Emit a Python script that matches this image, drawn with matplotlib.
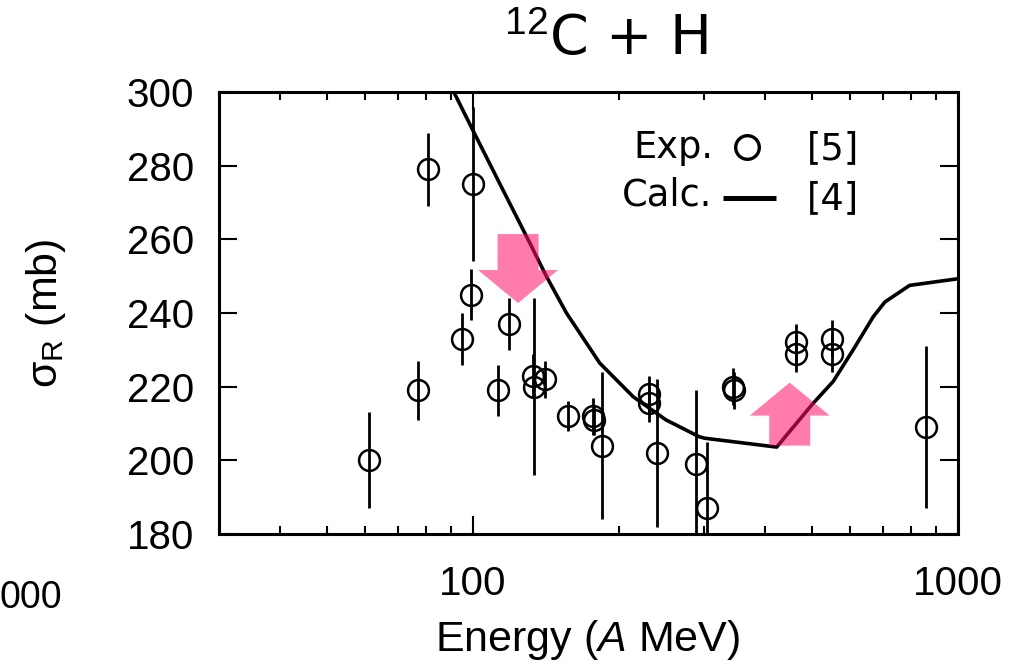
import matplotlib
matplotlib.use("Agg")
import matplotlib.pyplot as plt
import matplotlib.transforms as mtransforms
from matplotlib.patches import Polygon
from matplotlib.ticker import FixedLocator, NullFormatter, LogLocator

# Reaction cross sections for 12C + H: measurements [5]
exp_energy = [61, 77, 81, 95, 99, 100, 113, 119, 133, 133.5, 141, 157, 177, 178,
              185, 231, 231, 240, 289, 304, 344, 345, 463, 463, 551, 551, 858]
exp_sigma = [200, 219, 279, 233, 245, 275, 219, 237, 223, 220, 222, 212, 212, 211,
             204, 218, 215.5, 202, 199, 187, 220, 219, 232, 229, 233, 229, 209]
exp_err = [13, 8, 10, 7, 7, 21, 7, 7, 6, 24, 5, 4, 5, 4,
           20, 5, 5, 20, 20, 18, 5, 5, 5, 5, 5, 5, 22]

# Calculation [4]
calc_energy = [86, 91.1, 99.9, 113.7, 131, 141.9, 156, 182.7, 214, 250, 293, 300.8,
               423, 503, 553, 608, 669, 707, 795, 1000]
calc_sigma = [310, 300.4, 289.8, 275.1, 259.1, 249.9, 240, 226.4, 217.3, 211, 206.4, 206,
              203.6, 215.5, 221.4, 230, 239, 243, 247.5, 249.3]

y_ticks = [180, 200, 220, 240, 260, 280, 300]
x_ticks = [100, 1000]
x_tick_labels = ["100", "1000"]

plt.rcParams["mathtext.fontset"] = "custom"
plt.rcParams["mathtext.rm"] = "Liberation Sans"
plt.rcParams["mathtext.it"] = "Liberation Sans:italic"

W, H, DPI = 1030, 667, 100
fig = plt.figure(figsize=(W / DPI, H / DPI), dpi=DPI)
ax = fig.add_axes([219 / W, 1 - 534 / H, (958 - 219) / W, (534 - 92) / H])

ax.set_xscale("log")
ax.set_xlim(30, 1000)
ax.set_ylim(180, 300)

# calculated curve
ax.plot(calc_energy, calc_sigma, color="black", lw=2.6, zorder=3,
        solid_joinstyle="round")

# measured points
ax.errorbar(exp_energy, exp_sigma, yerr=exp_err, fmt="o", ms=15,
            mfc="none", mec="black", mew=1.8, ecolor="black", elinewidth=2.0,
            capsize=0, zorder=4)


def pink_arrow(tip_e, tip_s, pointing_down, length_px):
    head_half, head_len, shaft_half = 40, 33, 20.5
    s = 1 if pointing_down else -1
    verts_px = [(0, 0), (-head_half, s * head_len), (-shaft_half, s * head_len),
                (-shaft_half, s * length_px), (shaft_half, s * length_px),
                (shaft_half, s * head_len), (head_half, s * head_len)]
    verts_in = [(x / DPI, y / DPI) for x, y in verts_px]
    trans = fig.dpi_scale_trans + mtransforms.ScaledTranslation(tip_e, tip_s, ax.transData)
    poly = Polygon(verts_in, closed=True, transform=trans, facecolor="#ff0f68",
                   edgecolor="none", alpha=0.55, zorder=5, clip_on=False)
    ax.add_patch(poly)


pink_arrow(124, 242.7, True, 69)
pink_arrow(450, 221.1, False, 63)

# axes styling
for sp in ax.spines.values():
    sp.set_linewidth(2.2)
ax.set_yticks(y_ticks)
ax.set_yticklabels([str(v) for v in y_ticks])
ax.xaxis.set_major_locator(FixedLocator(x_ticks))
ax.set_xticklabels(x_tick_labels)
ax.xaxis.set_minor_locator(LogLocator(base=10, subs=range(2, 10), numticks=20))
ax.xaxis.set_minor_formatter(NullFormatter())
ax.tick_params(which="both", direction="in", top=True, right=True)
ax.tick_params(which="major", length=13, width=1.5)
ax.tick_params(which="minor", length=6, width=1.5)
ax.tick_params(axis="x", which="major", labelsize=29, pad=22)
ax.tick_params(axis="y", which="major", labelsize=29, pad=18)
for lbl in ax.get_xticklabels() + ax.get_yticklabels():
    lbl.set_fontfamily("Liberation Sans")

# legend block
leg_font = dict(family="DejaVu Sans", fontsize=26.5, color="black")
ax.text((713 - 219) / 739, (534 - 147) / 442, "Exp.", transform=ax.transAxes,
        ha="right", va="center", **leg_font)
ax.plot([(747 - 219) / 739], [(534 - 147) / 442], "o", ms=17, mfc="none",
        mec="black", mew=2.4, transform=ax.transAxes, clip_on=False)
ax.text((807 - 219) / 739, (534 - 149) / 442, "[5]", transform=ax.transAxes,
        ha="left", va="center", **leg_font)
ax.text((712 - 219) / 739, (534 - 195) / 442, "Calc.", transform=ax.transAxes,
        ha="right", va="center", **leg_font)
ax.plot([(723 - 219) / 739, (776 - 219) / 739], [(534 - 198) / 442] * 2,
        color="black", lw=3.6, transform=ax.transAxes, solid_capstyle="butt")
ax.text((807 - 219) / 739, (534 - 199) / 442, "[4]", transform=ax.transAxes,
        ha="left", va="center", **leg_font)

# titles and axis labels
fig.text(606 / W, 1 - 40 / H, r"$^{12}$C + H", ha="center", va="center",
         family="DejaVu Sans", fontsize=40)
fig.text(588 / W, 1 - 640 / H, r"Energy ($\mathit{A}$ MeV)", ha="center",
         va="center", family="Liberation Sans", fontsize=31)
fig.text(46 / W, 1 - 313 / H, r"σ$_{\mathrm{R}}$ (mb)", ha="center", va="center",
         rotation=90, family="Liberation Sans", fontsize=31)

# neighbouring panel's tick label at the left edge
fig.text(62 / W, 1 - 598 / H, "000", ha="right", va="center",
         family="Liberation Sans", fontsize=27)

fig.savefig("out.png", dpi=DPI)
